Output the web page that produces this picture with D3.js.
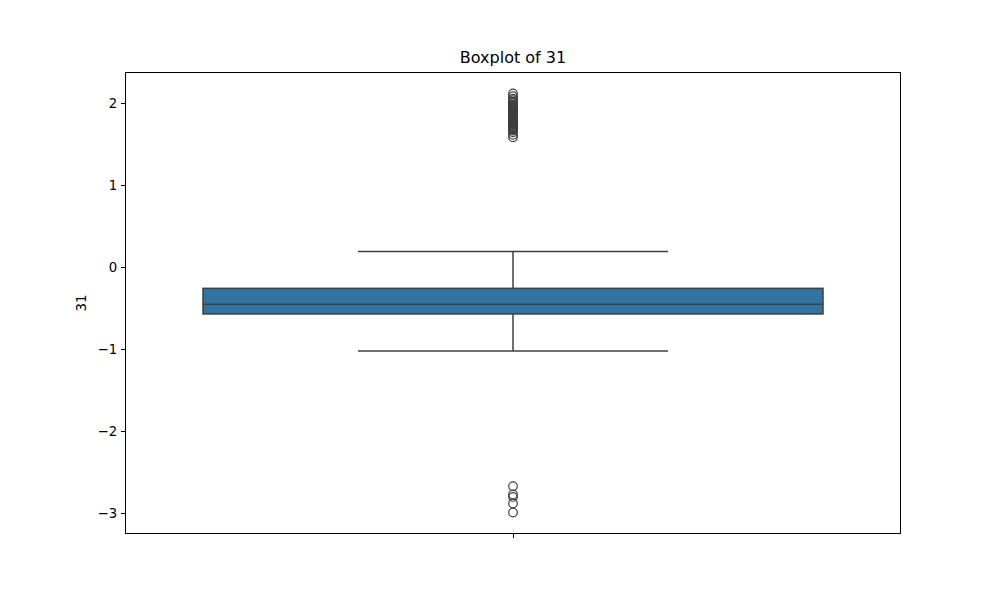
<!DOCTYPE html>
<html><head><meta charset="utf-8">
<script src="https://cdn.jsdelivr.net/npm/d3@7"></script>
<style>body{margin:0;background:#fff;} text{font-family:"DejaVu Sans",sans-serif;}</style>
</head><body>
<svg id="c" width="1000" height="600"></svg>
<script>
const category = ["31"];
const boxStats = {q1: -0.572, median: -0.454, q3: -0.26, whiskerLow: -1.022, whiskerHigh: 0.19};
const highOutliers = [2.113, 2.08, 2.05, 2.03, 2.01, 2.0, 1.98, 1.97, 1.96, 1.95, 1.94, 1.93, 1.92, 1.91, 1.90, 1.89, 1.88, 1.87, 1.86, 1.85, 1.84, 1.83, 1.82, 1.81, 1.80, 1.79, 1.78, 1.77, 1.76, 1.75, 1.74, 1.73, 1.72, 1.71, 1.70, 1.69, 1.68, 1.67, 1.66, 1.64, 1.61, 1.58];
const lowOutliers = [-2.67, -2.77, -2.80, -2.88, -2.99];
const yTicks = [-3, -2, -1, 0, 1, 2];

const svg = d3.select("#c");
const L = 125.5, R = 900.5, T = 72.5, B = 533.5;
const all = highOutliers.concat(lowOutliers);
const dmin = d3.min(all), dmax = d3.max(all), pad = (dmax - dmin) * 0.05;
const y = d3.scaleLinear().domain([dmin - pad, dmax + pad]).range([B, T]);
const x = d3.scaleLinear().domain([-0.5, 0.5]).range([L, R]);
const lineC = "#3f3f3f";

// y axis
const yAxis = d3.axisLeft(y).tickValues(yTicks).tickSize(4.9).tickPadding(3.5)
  .tickFormat(d => d < 0 ? "\u2212" + Math.abs(d) : d);
const ga = svg.append("g").attr("transform", `translate(${L},0)`).call(yAxis);
ga.select(".domain").remove();
ga.selectAll("line").attr("stroke", "#000").attr("stroke-width", 1).attr("shape-rendering", "crispEdges");
ga.selectAll("text").attr("font-size", 13.3).attr("fill", "#000").style("font-family", "DejaVu Sans");

// x axis
const xAxis = d3.axisBottom(x).tickValues([0]).tickSize(4.9).tickFormat("");
const gx = svg.append("g").attr("transform", `translate(0,${B})`).call(xAxis);
gx.select(".domain").remove();
gx.selectAll("line").attr("stroke", "#000").attr("stroke-width", 1).attr("shape-rendering", "crispEdges");

const cx = x(0), bw = x(0.4) - x(0), cw = x(0.2) - x(0);
const s = boxStats;
// whiskers
svg.append("line").attr("x1", cx).attr("x2", cx).attr("y1", y(s.q3)).attr("y2", y(s.whiskerHigh)).attr("stroke", lineC).attr("stroke-width", 1.5);
svg.append("line").attr("x1", cx).attr("x2", cx).attr("y1", y(s.q1)).attr("y2", y(s.whiskerLow)).attr("stroke", lineC).attr("stroke-width", 1.5);
svg.append("line").attr("x1", cx - cw).attr("x2", cx + cw).attr("y1", y(s.whiskerHigh)).attr("y2", y(s.whiskerHigh)).attr("stroke", lineC).attr("stroke-width", 1.5);
svg.append("line").attr("x1", cx - cw).attr("x2", cx + cw).attr("y1", y(s.whiskerLow)).attr("y2", y(s.whiskerLow)).attr("stroke", lineC).attr("stroke-width", 1.5);
// box
svg.append("rect").attr("x", cx - bw).attr("width", 2 * bw).attr("y", y(s.q3)).attr("height", y(s.q1) - y(s.q3))
  .attr("fill", "#3274a1").attr("stroke", lineC).attr("stroke-width", 1.5);
svg.append("line").attr("x1", cx - bw).attr("x2", cx + bw).attr("y1", y(s.median)).attr("y2", y(s.median)).attr("stroke", lineC).attr("stroke-width", 1.5);
// outliers
svg.append("g").selectAll("circle").data(all).join("circle")
  .attr("cx", cx).attr("cy", d => y(d)).attr("r", 4.3).attr("fill", "none").attr("stroke", lineC).attr("stroke-width", 1.2);

// frame
svg.append("rect").attr("x", L).attr("y", T).attr("width", R - L).attr("height", B - T).attr("fill", "none").attr("stroke", "#000").attr("stroke-width", 1).attr("shape-rendering", "crispEdges");

// title and label
svg.append("text").attr("x", (L + R) / 2).attr("y", 63).attr("text-anchor", "middle").attr("font-size", 16).text("Boxplot of " + category[0]);
svg.append("text").attr("transform", `translate(86,${(T + B) / 2}) rotate(-90)`).attr("text-anchor", "middle").attr("font-size", 13.3).text(category[0]);
</script>
</body></html>
